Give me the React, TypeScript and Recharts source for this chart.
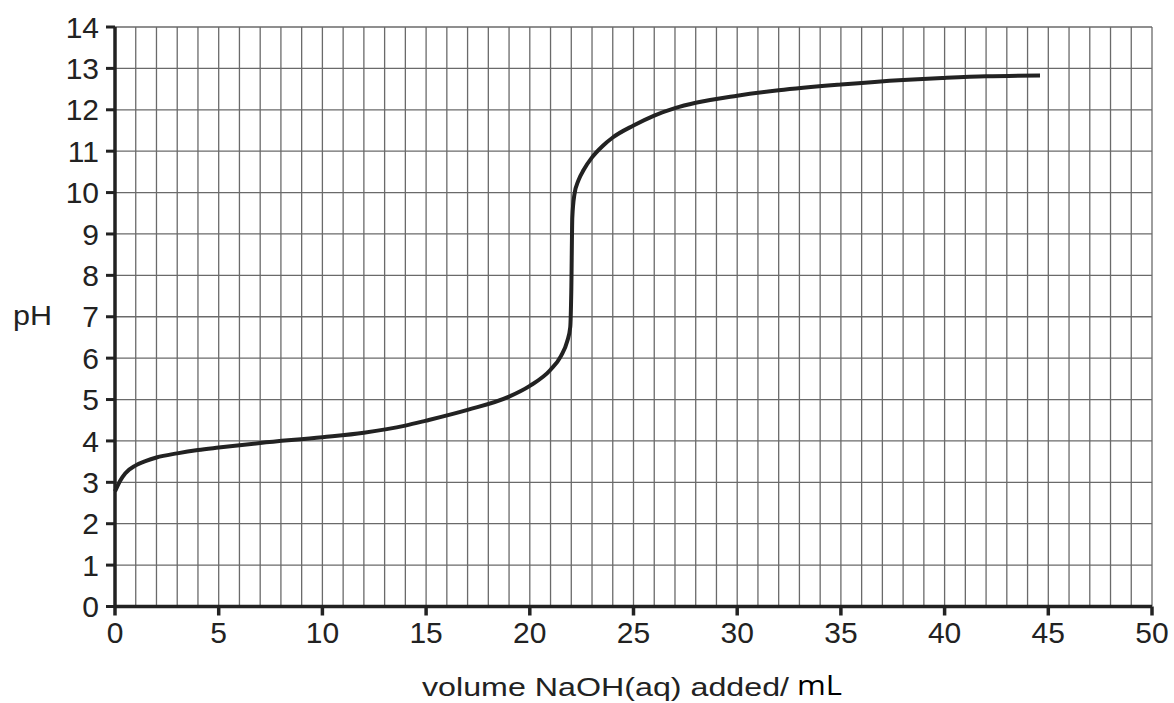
import { CartesianGrid, Line, LineChart, XAxis, YAxis } from "recharts";

// titration curve
const volume = [
  0, 0.25, 0.5, 1, 1.5, 2, 3, 4, 5, 7, 10, 12, 14, 15, 17, 19, 20, 21, 21.5,
  21.8, 21.95, 22, 22.05, 22.15, 22.35, 22.6, 23, 23.5, 24, 25, 26, 27, 28, 30,
  32, 35, 38, 40, 42, 44.6,
];
const pH = [
  2.78, 3.04, 3.22, 3.41, 3.52, 3.6, 3.7, 3.78, 3.84, 3.95, 4.09, 4.2, 4.37,
  4.49, 4.75, 5.07, 5.33, 5.72, 6.05, 6.4, 6.75, 7.6, 9.4, 9.95, 10.3, 10.55,
  10.85, 11.12, 11.33, 11.62, 11.86, 12.04, 12.17, 12.34, 12.47, 12.61, 12.72,
  12.77, 12.81, 12.83,
];

const xLabels = [0, 5, 10, 15, 20, 25, 30, 35, 40, 45, 50];
const yTicks = [0, 1, 2, 3, 4, 5, 6, 7, 8, 9, 10, 11, 12, 13, 14];
// one grid line per mL
const xGrid = Array.from({ length: 51 }, (_, i) => i);

const data = volume.map((v, i) => ({ vol: v, pH: pH[i] }));

const FONT = '"Liberation Sans", Arial, sans-serif';
const INK = "#222";

function XTick({ x, y, payload }: any) {
  const v = payload.value;
  if (!xLabels.includes(v)) return <g />;
  return (
    <g>
      <line x1={x} y1={y} x2={x} y2={y + 9} stroke={INK} strokeWidth={3.5} />
      <text x={x} y={y + 36.5} textAnchor="middle" fontSize={30} fill={INK} fontFamily={FONT}>
        {v}
      </text>
    </g>
  );
}

function YTitle() {
  return (
    <text x={13} y={325} fontSize={28} fill={INK} fontFamily={FONT} textLength={39} lengthAdjust="spacingAndGlyphs">
      pH
    </text>
  );
}

function XTitle() {
  return (
    <g>
      <text x={422} y={696} fontSize={26} fill={INK} fontFamily={FONT} textLength={367} lengthAdjust="spacingAndGlyphs">
        volume NaOH(aq) added/
      </text>
      <text x={797} y={695} fontSize={28} fill="#000" fontFamily='"Open Sans", sans-serif' textLength={45} lengthAdjust="spacingAndGlyphs">
        mL
      </text>
    </g>
  );
}

export default function App() {
  return (
    <div style={{ position: "absolute", left: 0, top: 0, background: "#fff" }}>
      <LineChart
        width={1174}
        height={703}
        data={data}
        margin={{ top: 27, right: 22, bottom: 0, left: 0 }}
      >
        <CartesianGrid stroke="#6a6a6a" strokeWidth={1.3} />
        <XAxis
          type="number"
          dataKey="vol"
          domain={[0, 50]}
          ticks={xGrid}
          interval={0}
          height={96.5}
          tickLine={false}
          tickSize={0}
          tickMargin={0}
          axisLine={{ stroke: INK, strokeWidth: 3.5 }}
          tick={<XTick />}
          label={<XTitle />}
        />
        <YAxis
          type="number"
          domain={[0, 14]}
          ticks={yTicks}
          interval={0}
          width={115}
          tickSize={9}
          tickMargin={7}
          tickLine={{ stroke: INK, strokeWidth: 3 }}
          axisLine={{ stroke: INK, strokeWidth: 3.5 }}
          tick={{ fontSize: 30, fill: INK, fontFamily: FONT }}
          label={<YTitle />}
        />
        <Line
          type="monotone"
          dataKey="pH"
          stroke={INK}
          strokeWidth={4}
          dot={false}
          isAnimationActive={false}
        />
      </LineChart>
    </div>
  );
}
